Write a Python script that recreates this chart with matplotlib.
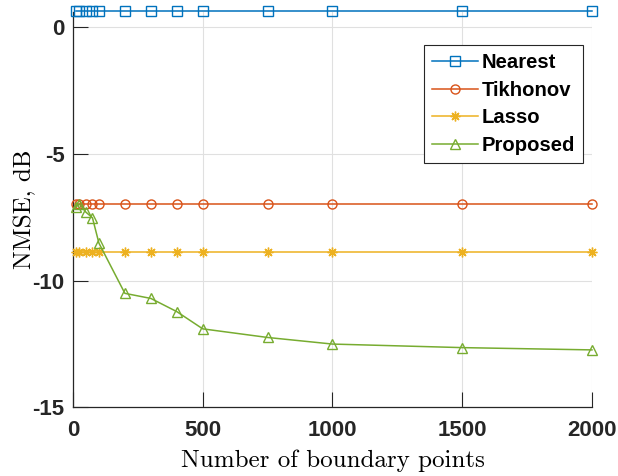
import matplotlib

matplotlib.use("Agg")
import matplotlib.pyplot as plt  # noqa: E402

# number of boundary points on the x axis
points = [10, 25, 50, 75, 100, 200, 300, 400, 500, 750, 1000, 1500, 2000]

nearest = [0.62] * len(points)
tikhonov = [-6.96] * len(points)
lasso = [-8.85] * len(points)
proposed = [-7.1, -6.98, -7.3, -7.52, -8.52, -10.5, -10.7, -11.22, -11.9,
            -12.24, -12.5, -12.64, -12.73]

series = [
    ("Nearest", nearest, "#0072BD", "s", 6.5),
    ("Tikhonov", tikhonov, "#D95319", "o", 6.5),
    ("Lasso", lasso, "#EDB120", (8, 2, 0), 7),
    ("Proposed", proposed, "#77AC30", "^", 7),
]

x_ticks = [0, 500, 1000, 1500, 2000]
y_ticks = [-15, -10, -5, 0]

fig = plt.figure(figsize=(6.18, 4.76), dpi=100)
ax = fig.add_axes([0.1181, 0.144, 0.8398, 0.831])

for name, vals, color, marker, ms in series:
    ax.plot(points, vals, color=color, marker=marker, markersize=ms,
            markerfacecolor="none", markeredgewidth=1.0, linewidth=1.1, label=name,
            clip_on=False, zorder=3)

ax.set_xlim(0, 2000)
ax.set_ylim(-15, 0.6)
ax.set_xticks(x_ticks)
ax.set_yticks(y_ticks)
ax.set_yticklabels([str(v) for v in y_ticks])

for side in ("top", "right"):
    ax.spines[side].set_visible(False)
for side in ("left", "bottom"):
    ax.spines[side].set_color("#262626")
    ax.spines[side].set_linewidth(0.9)

ax.grid(True, color="#e0e0e0", linewidth=0.8)
ax.set_axisbelow(True)
ax.tick_params(direction="in", length=11, width=0.8, color="#262626")
ax.tick_params(axis="x", pad=9)
ax.tick_params(axis="y", pad=6)
for lab in ax.get_xticklabels() + ax.get_yticklabels():
    lab.set_fontfamily("Liberation Sans")
    lab.set_fontweight("bold")
    lab.set_fontsize(16)
    lab.set_color("#262626")

ax.set_xlabel("Number of boundary points", family="cmr10", fontsize=18, labelpad=6)
ax.set_ylabel("NMSE, dB", family="cmr10", fontsize=18, labelpad=-2.5)

leg = ax.legend(loc="upper right", bbox_to_anchor=(0.983, 0.916), fancybox=False,
                framealpha=1, edgecolor="#262626", handlelength=2.25, handletextpad=0.2,
                labelspacing=0.42, borderpad=0.4, borderaxespad=0,
                prop={"family": "Liberation Sans", "weight": "bold", "size": 14.6})
leg.get_frame().set_linewidth(0.8)

fig.savefig("out.png", dpi=100)
